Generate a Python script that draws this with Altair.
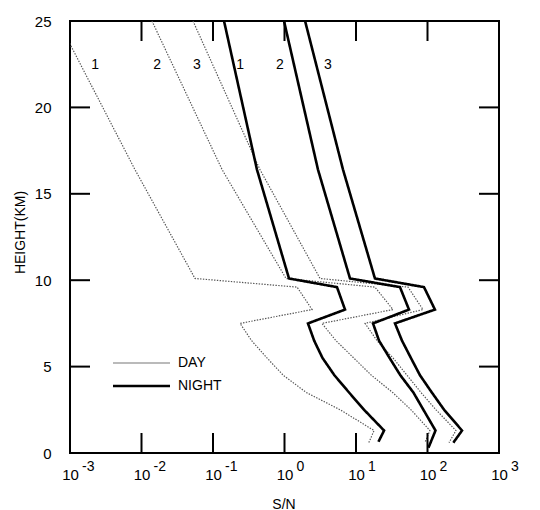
import altair as alt
import pandas as pd

FONT = "Liberation Sans"

# Heights (km) of the profile points, top to bottom; last point of each series is its own
HEIGHTS = [25, 16.4, 10.1, 9.6, 8.3, 7.5, 6.5, 5.5, 4.5, 3.5, 2.5, 1.3]
HOOK_HEIGHTS = {"D1": 0.6, "D2": 0.6, "D3": 0.6, "N1": 0.65, "N2": 0.3, "N3": 0.6}

# S/N values
DAY_1 = [0.00068, 0.0081, 0.056, 1.50, 2.43, 0.239, 0.347, 0.569, 0.96, 2.02, 6.0, 17.9, 15.1]
DAY_2 = [0.0140, 0.134, 1.05, 18.4, 32.9, 3.34, 5.25, 9.29, 16.4, 32.6, 58.8, 108, 92]
DAY_3 = [0.0525, 0.454, 3.14, 53.4, 86.5, 13.4, 19.7, 32.9, 51.7, 81.1, 131.5, 250, 200]
NIGHT_1 = [0.1426, 0.412, 1.156, 5.42, 7.02, 2.13, 2.60, 3.40, 4.99, 8.0, 12.97, 24.7, 20.6]
NIGHT_2 = [0.984, 2.94, 8.24, 41.2, 55.1, 17.3, 21.0, 29.5, 41.7, 63.5, 87.7, 129.4, 103]
NIGHT_3 = [1.94, 6.58, 18.4, 89.3, 127, 35.1, 44.0, 58.6, 78.5, 115, 171, 304, 230]

SERIES = {
    "D1": ("DAY", DAY_1), "D2": ("DAY", DAY_2), "D3": ("DAY", DAY_3),
    "N1": ("NIGHT", NIGHT_1), "N2": ("NIGHT", NIGHT_2), "N3": ("NIGHT", NIGHT_3),
}

# Curve number labels near the top
CURVE_LABELS = ["1", "2", "3", "1", "2", "3"]
CURVE_LABEL_X = [0.00224, 0.0165, 0.0597, 0.239, 0.865, 4.06]
CURVE_LABEL_Y = [22.45, 22.45, 22.45, 22.45, 22.45, 22.45]

# Axis tick values / labels
X_LABEL_VALUES = [0.001, 0.01, 0.1, 1, 10, 100, 1000]
X_EXPONENTS = ["-3", "-2", "-1", "0", "1", "2", "3"]
X_INNER_TICKS = [0.01, 0.1, 1, 10, 100]
Y_LABEL_VALUES = [0, 5, 10, 15, 20, 25]
Y_INNER_TICKS = [5, 10, 15, 20]

W, H = 429, 432

rows = []
for name, (period, vals) in SERIES.items():
    hs = HEIGHTS + [HOOK_HEIGHTS[name]]
    for i, (h, v) in enumerate(zip(hs, vals)):
        rows.append({"series": name, "period": period, "idx": i, "h": h, "sn": v})
df = pd.DataFrame(rows)

xscale = alt.Scale(type="log", domain=[0.001, 1000], nice=False)
yscale = alt.Scale(domain=[0, 25], nice=False, zero=False)

xaxis = alt.Axis(
    values=X_LABEL_VALUES, labelExpr="'10'", grid=False, domain=False,
    ticks=False, tickSize=0, labelPadding=26, labelBaseline="alphabetic",
    labelFontSize=15, labelFont=FONT, labelColor="black",
    labelFlush=False, labelOverlap=False, labelBound=False,
    title="S/N", titleFont=FONT, titleFontSize=14, titleFontWeight="normal",
    titleColor="black", titleBaseline="alphabetic", titleY=55, titleX=W / 2 - 1,
)
yaxis = alt.Axis(
    values=Y_LABEL_VALUES, format="d", grid=False, domain=False,
    ticks=False, tickSize=0, labelPadding=19,
    labelFontSize=15, labelFont=FONT, labelColor="black",
    labelFlush=False, labelOverlap=False, labelBound=False,
    title="HEIGHT(KM)", titleFont=FONT, titleFontSize=14, titleFontWeight="normal",
    titleColor="black", titleBaseline="alphabetic", titleX=-46, titleY=211, titleAngle=-90,
)

def X(field):
    return alt.X(field, scale=xscale, axis=xaxis)

def Y(field):
    return alt.Y(field, scale=yscale, axis=yaxis)

lines = alt.Chart(df).mark_line(clip=True, strokeJoin="miter").encode(
    x=X("sn:Q"),
    y=Y("h:Q"),
    detail="series:N",
    order="idx:Q",
    color=alt.Color("period:N", scale=alt.Scale(domain=["DAY", "NIGHT"], range=["#555555", "#000000"]), legend=None),
    strokeWidth=alt.StrokeWidth("period:N", scale=alt.Scale(domain=["DAY", "NIGHT"], range=[1.2, 2.6]), legend=None),
    strokeDash=alt.StrokeDash("period:N", scale=alt.Scale(domain=["DAY", "NIGHT"], range=[[1.4, 1.4], [1, 0]]), legend=None),
)

xt = pd.DataFrame({"v": X_INNER_TICKS})
xticks_bottom = alt.Chart(xt).mark_rule(color="black", strokeWidth=2).encode(
    x=X("v:Q"), y=alt.value(H), y2=alt.value(H - 20))
xticks_top = alt.Chart(xt).mark_rule(color="black", strokeWidth=2).encode(
    x=X("v:Q"), y=alt.value(0), y2=alt.value(20))

yt = pd.DataFrame({"v": Y_INNER_TICKS})
yticks_left = alt.Chart(yt).mark_rule(color="black", strokeWidth=2).encode(
    y=Y("v:Q"), x=alt.value(0), x2=alt.value(20))
yticks_right = alt.Chart(yt).mark_rule(color="black", strokeWidth=2).encode(
    y=Y("v:Q"), x=alt.value(W - 20), x2=alt.value(W))

ex = pd.DataFrame({"v": X_LABEL_VALUES, "e": X_EXPONENTS})
exponents = alt.Chart(ex).mark_text(
    align="left", baseline="alphabetic", dx=12, fontSize=14, font=FONT, color="black"
).encode(x=X("v:Q"), y=alt.value(H + 18), text="e:N")

cl = pd.DataFrame({"x": CURVE_LABEL_X, "y": CURVE_LABEL_Y, "t": CURVE_LABELS})
curve_labels = alt.Chart(cl).mark_text(
    fontSize=14, font=FONT, color="black", baseline="middle", align="center"
).encode(x=X("x:Q"), y=Y("y:Q"), text="t:N")

LEGEND_NAMES = ["DAY", "NIGHT"]
lg = pd.DataFrame({"name": LEGEND_NAMES})
leg_day_line = alt.Chart(lg).transform_filter("datum.name == 'DAY'").mark_rule(
    color="#777777", strokeWidth=1.1).encode(x=alt.value(43), x2=alt.value(100), y=alt.value(342))
leg_night_line = alt.Chart(lg).transform_filter("datum.name == 'NIGHT'").mark_rule(
    color="black", strokeWidth=2.4).encode(x=alt.value(43), x2=alt.value(100), y=alt.value(365))
leg_day_text = alt.Chart(lg).transform_filter("datum.name == 'DAY'").mark_text(
    align="left", baseline="middle", fontSize=14, font=FONT, color="black"
).encode(x=alt.value(108), y=alt.value(342), text="name:N")
leg_night_text = alt.Chart(lg).transform_filter("datum.name == 'NIGHT'").mark_text(
    align="left", baseline="middle", fontSize=14, font=FONT, color="black"
).encode(x=alt.value(108), y=alt.value(365), text="name:N")

chart = alt.layer(
    lines, xticks_bottom, xticks_top, yticks_left, yticks_right,
    exponents, curve_labels,
    leg_day_line, leg_night_line, leg_day_text, leg_night_text,
).properties(
    width=W, height=H,
    autosize=alt.AutoSizeParams(type="none"),
    padding={"left": 70, "top": 21, "right": 41, "bottom": 57},
    background="white",
).configure_view(stroke="black", strokeWidth=2)

chart.save("out.html", embed_options={"renderer": "svg", "actions": False})
